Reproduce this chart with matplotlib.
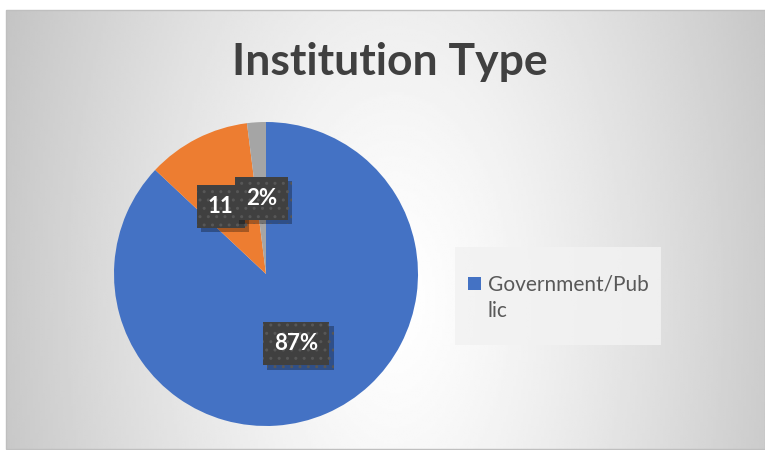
import numpy as np
import matplotlib
matplotlib.use("Agg")
import matplotlib.pyplot as plt
import matplotlib.patheffects as pe
from matplotlib.patches import Rectangle

title = "Institution Type"
labels = ["Government/Public", "Private", "Other"]
values = [87, 11, 2]
colors = ["#4472c4", "#ed7d31", "#a5a5a5"]
# the orange label is partly hidden behind the 2% label in the original
shown_labels = ["87%", "11", "2%"]
legend_text = "Government/Pub\nlic"

W, H = 765, 450
fig = plt.figure(figsize=(W / 100, H / 100), dpi=100)
fig.patch.set_facecolor("white")

# background axes in pixel coordinates
bg = fig.add_axes([0, 0, 1, 1])
bg.set_xlim(0, W)
bg.set_ylim(H, 0)
bg.axis("off")

x0, y0, x1, y1 = 6, 10, 765, 449
xx, yy = np.meshgrid(np.linspace(x0, x1, 300), np.linspace(y0, y1, 200))
d = np.sqrt(((xx - 395) / 390.0) ** 2 + ((yy - 300) / 700.0) ** 2)
v = np.clip(1 - 0.21 * d ** 1.3, 0, 1)
bg.imshow(v, cmap="gray", vmin=0, vmax=1, extent=[x0, x1, y1, y0],
          aspect="auto", interpolation="bilinear", zorder=0)
bg.add_patch(Rectangle((x0, y0), x1 - x0, y1 - y0, fill=False,
                       edgecolor="#bfbfbf", lw=1, zorder=1))

bg.text(390, 62, title, ha="center", va="center", fontsize=32,
        fontweight="bold", color="#404040", family="Lato")

# legend
bg.add_patch(Rectangle((455, 247), 206, 98, facecolor="#f2f2f2",
                       edgecolor="none", alpha=0.85, zorder=2))
bg.add_patch(Rectangle((468, 277), 13, 13, facecolor=colors[0],
                       edgecolor="none", zorder=3))
bg.text(488, 298, legend_text, ha="left", va="center", fontsize=15,
        color="#595959", family="Lato", linespacing=1.4, zorder=3)

# pie
cx, cy, r = 266, 274, 152
ax = fig.add_axes([(cx - r) / W, (H - cy - r) / H, 2 * r / W, 2 * r / H])
ax.set_facecolor("none")
wedges, texts = ax.pie(values, colors=colors, startangle=90,
                       counterclock=False, radius=1,
                       wedgeprops=dict(linewidth=0))
ax.set_xlim(-1, 1)
ax.set_ylim(-1, 1)

# data labels at half radius of each wedge
for i, w in enumerate(wedges):
    ang = np.deg2rad((w.theta1 + w.theta2) / 2)
    lx, ly = 0.5 * np.cos(ang), 0.5 * np.sin(ang)
    if shown_labels[i] == "11":
        lx -= 0.07
    t = ax.text(lx, ly, shown_labels[i], ha="center", va="center",
                color="white", fontsize=16, fontweight="bold", family="Lato",
                bbox=dict(boxstyle="square,pad=0.5", facecolor="#404040",
                          edgecolor="#575757", hatch="..", lw=0),
                zorder=5 + i)
    t.get_bbox_patch().set_path_effects(
        [pe.SimplePatchShadow(offset=(3, -3), shadow_rgbFace="black",
                              alpha=0.3), pe.Normal()])

fig.savefig("out.png", dpi=100)
